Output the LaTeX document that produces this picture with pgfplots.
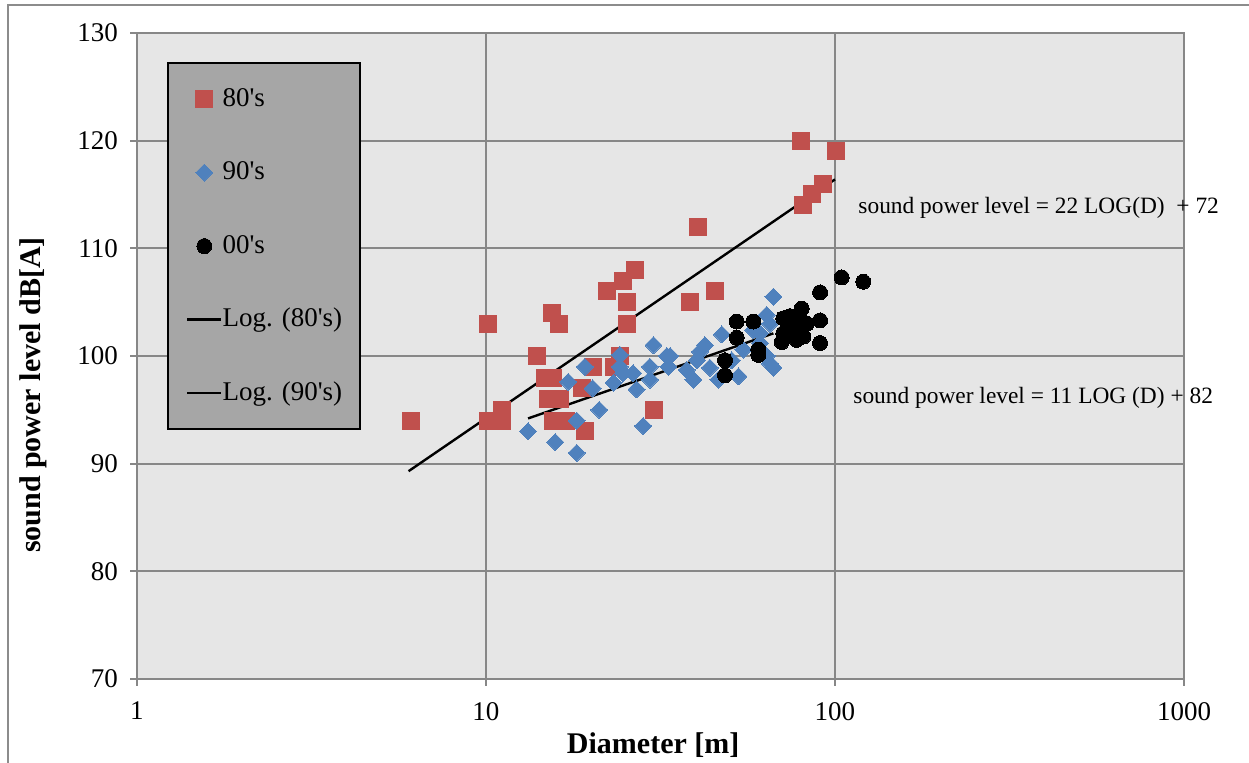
\documentclass[border=0pt]{standalone}
\usepackage{fontspec}
\setmainfont{Liberation Serif}
\usepackage{pgfplots}
\pgfplotsset{compat=1.18}
\definecolor{exred}{HTML}{C0504D}
\definecolor{exblue}{HTML}{4F81BD}
\definecolor{plotbg}{HTML}{E6E6E6}
\definecolor{legendgray}{HTML}{A6A6A6}
\definecolor{gridgray}{HTML}{878787}
\definecolor{framegray}{HTML}{8C8C8C}

\begin{document}
\begin{tikzpicture}
\path[use as bounding box] (0pt,0pt) rectangle (624.5pt,381.5pt);
\draw[framegray, line width=1pt] (4pt,-10pt) -- (4pt,379pt) -- (640pt,379pt);
\begin{axis}[
  at={(68.5pt,42pt)}, anchor=south west,
  scale only axis, width=523.5pt, height=323pt,
  xmode=log, xmin=1, xmax=1000, ymin=70, ymax=130,
  xtick={1,10,100,1000}, xticklabels={1,10,100,1000},
  ytick={70,80,...,130}, xminorticks=false,
  axis background/.style={fill=plotbg},
  axis line style={draw=gridgray, line width=1pt},
  grid=major, major grid style={gridgray, line width=1pt},
  tick style={gridgray, line width=1pt},
  tick align=outside, major tick length=3.5pt, tick pos=left,
  ticklabel style={font=\fontsize{13.5}{16}\selectfont},
  xticklabel style={yshift=-4.5pt},
  yticklabel style={xshift=-2.5pt},
  /pgf/number format/assume math mode=true,
  label style={font=\bfseries\fontsize{15}{18}\selectfont},
  xlabel={Diameter [m]},
  ylabel={sound power level dB[A]},
  x label style={at={(axis description cs:0.493,-0.102)}, anchor=center},
  y label style={at={(axis description cs:-0.0993,0.4396)}, anchor=center},
  clip=false,
  legend cell align=left,
  legend style={at={(axis description cs:0.0287,0.955)}, anchor=north west,
    fill=legendgray, draw=black, line width=1pt,
    inner xsep=9pt, inner ysep=12pt, row sep=24.75pt,
    font=\fontsize{13.5}{16}\selectfont,
    nodes={inner sep=0pt, text height=9.5pt, text depth=2.5pt},
    /tikz/every even column/.append style={column sep=1.5pt}},
]
% 80's
\addplot[only marks, mark=square*, mark size=4.25pt,
  mark options={fill=exred, draw=exred, line width=0pt}] coordinates {
  (6.1,94) (10.1,103) (10.1,94) (11.1,95) (11.1,94) (14,100) (15.5,104)
  (16.2,103) (14.8,98) (15.6,98) (15.1,96) (16.3,96) (15.6,94) (17,94)
  (19.2,93) (18.8,97) (20.3,99) (22.2,106) (24.7,107) (26.7,108) (25.3,105)
  (25.3,103) (24.2,100) (23.2,99) (30.3,95) (40.4,112) (45.3,106) (38.4,105)
  (79.7,120) (100.7,119) (92.2,116) (85.8,115) (80.8,114)
};
\addlegendentry{80\textquotesingle s}
% 90's
\addplot[only marks, mark=square*, mark size=3pt,
  mark options={rotate=45, fill=exblue, draw=exblue, line width=0pt}] coordinates {
  (13.2,93) (15.8,92) (18.2,91) (18.2,94) (17.2,97.6) (19.2,99) (20.2,97)
  (21.1,95) (28.2,93.5) (24.2,100.1) (24.2,99) (23.2,97.5) (24.7,98.4)
  (27,96.9) (26.4,98.4) (30.2,101) (29.5,99) (29.5,97.8) (33,100) (33.3,99)
  (66.6,105.5) (63.7,103.8) (66.6,98.9) (47.4,102) (42.4,101) (41,100.4)
  (40.2,99.6) (33.7,100) (37.6,98.7) (39.3,97.8) (43.8,98.9) (46.3,97.8)
  (52.9,98.1) (54.6,100.6) (50.6,99.6) (61,101.2) (61,102.1) (65.1,103)
  (58.3,102.4) (63.7,100) (65.1,99.3)
};
\addlegendentry{90\textquotesingle s}
% 00's
\addplot[only marks, mark=*, mark size=3.75pt,
  mark options={fill=black, draw=black, line width=0pt}] coordinates {
  (104.5,107.3) (120.5,106.9) (90.6,105.9) (90.6,103.3) (90.6,101.2)
  (80.3,104.4) (79.2,103.7) (83,103) (77.6,102.4) (81.2,101.8) (77.6,101.5)
  (71.1,103.5) (70.4,101.3) (71.1,102.1) (74.3,103.7) (52.3,103.2)
  (58.3,103.2) (52.3,101.7) (60.3,100.6) (60.3,100.1) (48.4,99.6)
  (48.4,98.2) (76,102.4)
};
\addlegendentry{00\textquotesingle s}
% trend lines
\addplot[black, line width=1.2pt, no marks] coordinates {(6,89.3) (100,116.4)};
\addlegendentry{Log. (80\textquotesingle s)}
\addplot[black, line width=1.2pt, no marks] coordinates {(13.2,94.2) (66.6,102.1)};
\addlegendentry{Log. (90\textquotesingle s)}
\node[anchor=west, inner sep=0pt, font=\fontsize{11.7}{14}\selectfont]
  at (axis description cs:0.6887,0.729) {sound power level = 22 LOG(D)\ \ + 72};
\node[anchor=west, inner sep=0pt, font=\fontsize{11.7}{14}\selectfont]
  at (axis description cs:0.6839,0.435) {sound power level = 11 LOG (D) + 82};
\end{axis}
\end{tikzpicture}
\end{document}
